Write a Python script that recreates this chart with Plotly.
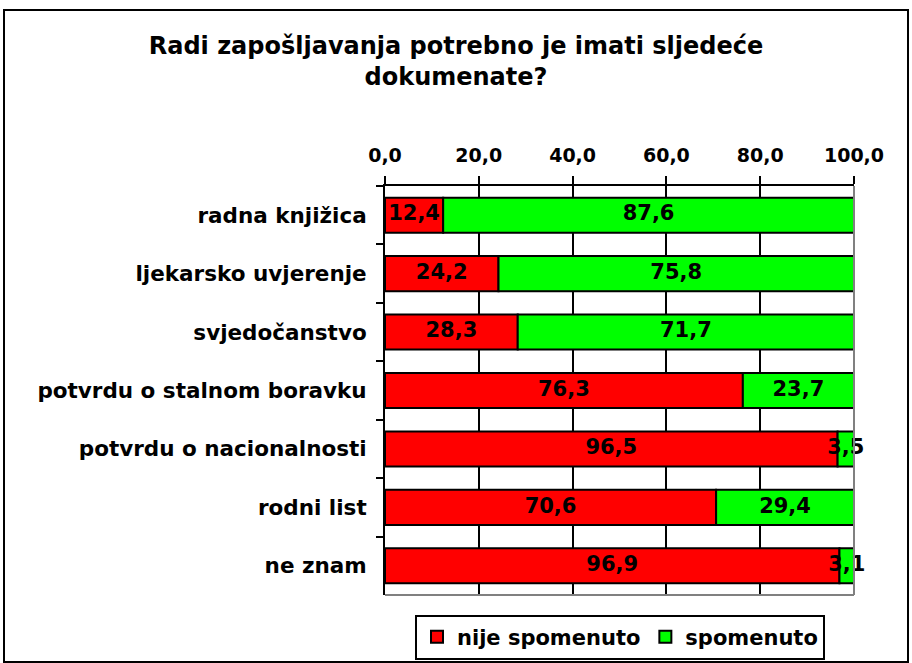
import plotly.graph_objects as go

categories = ["radna knjižica", "ljekarsko uvjerenje", "svjedočanstvo",
              "potvrdu o stalnom boravku", "potvrdu o nacionalnosti",
              "rodni list", "ne znam"]
nije_spomenuto = [12.4, 24.2, 28.3, 76.3, 96.5, 70.6, 96.9]
spomenuto = [87.6, 75.8, 71.7, 23.7, 3.5, 29.4, 3.1]
x_ticks = [0, 20, 40, 60, 80, 100]

W, H = 912, 663
L, R, T, B = 385, 58, 186, 68
FONT = "DejaVu Sans"

def f(size):
    return dict(family=FONT, size=size, color="black", weight="bold")

fig = go.Figure()
fig.add_trace(go.Bar(y=categories, x=nije_spomenuto, orientation="h", name="nije spomenuto",
                     marker=dict(color="#FF0000", line=dict(color="black", width=2))))
fig.add_trace(go.Bar(y=categories, x=spomenuto, orientation="h", name="spomenuto",
                     marker=dict(color="#00FF00", line=dict(color="black", width=2)),
                     base=nije_spomenuto))

# data labels centered in each segment
mid1 = [v / 2 for v in nije_spomenuto]
mid2 = [a + b / 2 for a, b in zip(nije_spomenuto, spomenuto)]
lab = lambda v: f"{v:.1f}".replace(".", ",")
for mids, vals in ((mid1, nije_spomenuto), (mid2, spomenuto)):
    fig.add_trace(go.Scatter(x=mids, y=categories, mode="text", text=[lab(v) for v in vals],
                             textfont=f(21),
                             showlegend=False, hoverinfo="skip", cliponaxis=False))

pw = W - L - R
ph = H - T - B
def px_x(p): return (p - L) / pw
def px_y(p): return (H - B - p) / ph

fig.update_layout(
    width=W, height=H,
    margin=dict(l=L, r=R, t=T, b=B, pad=0, autoexpand=False),
    paper_bgcolor="white", plot_bgcolor="white",
    barmode="overlay", bargap=0.4,
    separators=",.",
    font=f(20),
    title=dict(text="Radi zapošljavanja potrebno je imati sljedeće<br>dokumenate?",
               x=0.5, xanchor="center", xref="container", y=1 - 54 / H, yanchor="top",
               yref="container", font=f(24), automargin=False),
    xaxis=dict(side="top", range=[0, 100], tickvals=x_ticks, tickformat=".1f",
               ticks="outside", ticklen=8, tickwidth=2, tickcolor="black",
               showline=True, linecolor="black", linewidth=2,
               showgrid=True, gridcolor="black", gridwidth=2, zeroline=False,
               ticklabelstandoff=6, tickfont=f(19), fixedrange=True),
    yaxis=dict(autorange="reversed", tickson="boundaries", ticks="outside", ticklen=7,
               tickwidth=2, tickcolor="black", showline=True, linecolor="black",
               linewidth=2, showgrid=False, zeroline=False,
               ticklabelstandoff=12, tickfont=f(21.5)),
    legend=dict(orientation="h", x=620 / W, xanchor="center", xref="container",
                y=(H - 637) / H, yanchor="middle", yref="container",
                bordercolor="black", borderwidth=2, bgcolor="white",
                font=f(21), traceorder="normal", itemwidth=30),
    shapes=[
        dict(type="line", xref="paper", yref="paper", x0=1, x1=1, y0=0, y1=1,
             line=dict(color="#808080", width=2)),
        dict(type="line", xref="paper", yref="paper", x0=0, x1=1, y0=0, y1=0,
             line=dict(color="#808080", width=2)),
        dict(type="rect", xref="paper", yref="paper", x0=px_x(4), x1=px_x(908),
             y0=px_y(662), y1=px_y(10), line=dict(color="black", width=2), layer="below"),
    ],
)
fig.update_traces(selector=dict(type="bar"), hoverinfo="skip")
fig.write_html("out.html", config=dict(displayModeBar=False),
               post_script="document.body.style.margin='0';document.body.style.overflow='hidden';")
